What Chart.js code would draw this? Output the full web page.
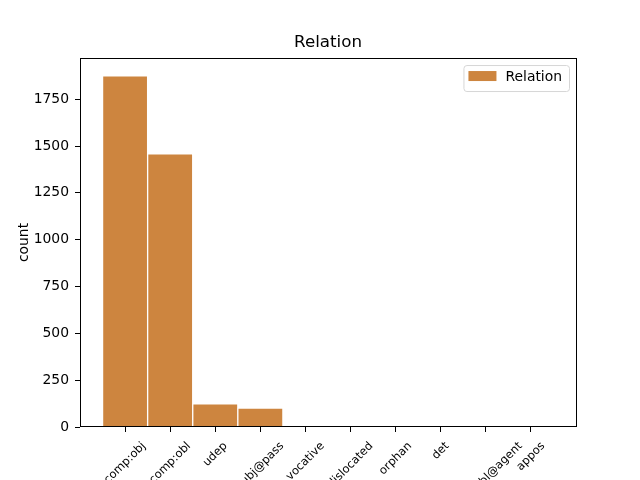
<!DOCTYPE html>
<html>
<head>
<meta charset="utf-8">
<script src="https://cdn.jsdelivr.net/npm/chart.js@4.4.1/dist/chart.umd.min.js"></script>
<style>
  html, body { margin: 0; padding: 0; background: #fff; overflow: hidden; }
</style>
</head>
<body>
<canvas id="chart" width="640" height="480"></canvas>
<script>
  // data
  const relations = [
    "comp:obj", "comp:obl", "udep", "subj@pass", "vocative",
    "dislocated", "orphan", "det", "comp:obl@agent", "appos",
  ];
  const counts = [1875, 1458, 124, 101, 2, 1, 1, 1, 1, 1];
  const yTicks = [0, 250, 500, 750, 1000, 1250, 1500, 1750];
  const yMax = 1970;

  const FONT = "'DejaVu Sans', sans-serif";
  const barColor = "#cd853f";

  // axes frame on all four sides, like matplotlib
  const framePlugin = {
    id: "frame",
    afterDraw(chart) {
      const { ctx, chartArea: a } = chart;
      const l = Math.round(a.left) + 0.5;
      const t = Math.round(a.top) + 0.5;
      const r = Math.round(a.right) + 0.5;
      const b = Math.round(a.bottom) - 0.5;
      ctx.save();
      ctx.strokeStyle = "#000";
      ctx.lineWidth = 1;
      ctx.strokeRect(l, t, r - l, b - t);
      ctx.restore();
    },
  };

  // x tick labels: rotated 45°, centred on the tick (matplotlib style)
  const xLabelPlugin = {
    id: "xLabels",
    afterDraw(chart) {
      const { ctx } = chart;
      const xs = chart.scales.x;
      const size = 11.5;
      const h = size * 1.17;
      const top = chart.chartArea.bottom + 12.5;
      ctx.save();
      ctx.font = `${size}px ${FONT}`;
      ctx.fillStyle = "#000";
      ctx.textAlign = "center";
      ctx.textBaseline = "middle";
      xs.ticks.forEach((t) => {
        const label = relations[t.value];
        if (label === undefined) return;
        const w = ctx.measureText(label).width;
        const box = (w + h) * Math.SQRT1_2;
        const px = xs.getPixelForValue(t.value);
        ctx.save();
        ctx.translate(px, top + box / 2);
        ctx.rotate(-Math.PI / 4);
        ctx.fillText(label, 0, 0);
        ctx.restore();
      });
      ctx.restore();
    },
  };

  // legend box in the upper right corner of the axes
  const legendPlugin = {
    id: "legendBox",
    afterDraw(chart) {
      const { ctx, chartArea: a } = chart;
      const ds = chart.data.datasets[0];
      const size = 13.9;
      ctx.save();
      ctx.font = `${size}px ${FONT}`;
      const tw = ctx.measureText(ds.label).width;
      const w = tw + 49;
      const hgt = 26;
      const right = a.right - 7;
      const top = a.top + 7;
      const left = right - w;
      ctx.beginPath();
      ctx.roundRect(left + 0.5, top + 0.5, w, hgt, 3);
      ctx.fillStyle = "rgba(255,255,255,0.8)";
      ctx.fill();
      ctx.strokeStyle = "#d6d6d6";
      ctx.lineWidth = 1;
      ctx.stroke();
      ctx.fillStyle = ds.backgroundColor;
      ctx.fillRect(left + 5, top + 6, 28, 10);
      ctx.fillStyle = "#000";
      ctx.textAlign = "left";
      ctx.textBaseline = "middle";
      ctx.fillText(ds.label, left + 42, top + 12);
      ctx.restore();
    },
  };

  new Chart(document.getElementById("chart"), {
    type: "bar",
    data: {
      datasets: [
        {
          label: "Relation",
          data: counts.map((c, i) => ({ x: i, y: c })),
          backgroundColor: barColor,
          borderColor: "rgba(255,255,255,0.85)",
          borderWidth: 1,
          borderSkipped: "start",
          barPercentage: 1,
          categoryPercentage: 1,
        },
      ],
    },
    options: {
      responsive: false,
      animation: false,
      devicePixelRatio: 1,
      layout: { padding: { left: 16, right: 0, top: 0, bottom: 0 } },
      plugins: {
        legend: { display: false },
        tooltip: { enabled: false },
        title: {
          display: true,
          text: "Relation",
          color: "#000",
          font: { family: FONT, size: 16.7, weight: "normal" },
          padding: { top: 33, bottom: 5 },
        },
      },
      scales: {
        x: {
          type: "linear",
          min: -1,
          max: 10,
          offset: false,
          afterBuildTicks: (axis) => {
            axis.ticks = relations.map((_, i) => ({ value: i }));
          },
          afterFit: (axis) => { axis.height = 53; },
          grid: { offset: false, drawOnChartArea: false, tickLength: 5, tickColor: "#000" },
          border: { display: false },
          ticks: {
            autoSkip: false,
            maxRotation: 0,
            color: "rgba(0,0,0,0)",
            font: { family: FONT, size: 11 },
            callback: (v) => relations[v] ?? "",
          },
        },
        y: {
          min: 0,
          max: yMax,
          afterBuildTicks: (axis) => {
            axis.ticks = yTicks.map((v) => ({ value: v }));
          },
          afterFit: (axis) => { axis.width = 64; },
          grid: { drawOnChartArea: false, tickLength: 5, tickColor: "#000" },
          border: { display: false },
          ticks: {
            color: "#000",
            padding: 6,
            font: { family: FONT, size: 13.9 },
            callback: (v) => String(v),
          },
          title: {
            display: true,
            text: "count",
            color: "#000",
            font: { family: FONT, size: 13.9 },
            padding: { top: 0, bottom: 0 },
          },
        },
        y2: {
          position: "right",
          display: true,
          afterFit: (axis) => { axis.width = 64; },
          grid: { display: false },
          border: { display: false },
          ticks: { display: false },
        },
      },
    },
    plugins: [framePlugin, xLabelPlugin, legendPlugin],
  });
</script>
</body>
</html>
